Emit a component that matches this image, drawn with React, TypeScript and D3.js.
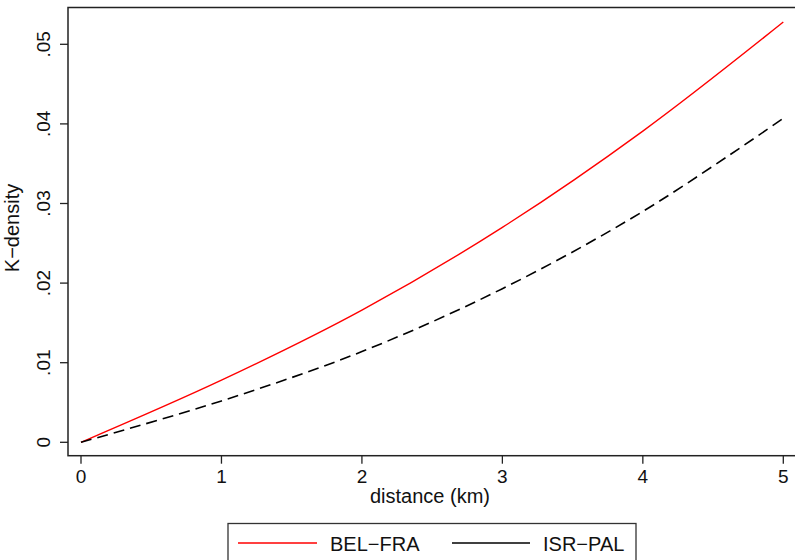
import React from 'react';
import * as d3 from 'd3';

// distance in km
const distances = [0, 1, 2, 3, 4, 5];
// K-density values
const belFra = [0, 0.0078, 0.0166, 0.027, 0.0391, 0.0528];
const isrPal = [0, 0.0052, 0.0114, 0.0193, 0.029, 0.0407];

const xTicks = [0, 1, 2, 3, 4, 5];
const yTicks = [0, 0.01, 0.02, 0.03, 0.04, 0.05];
const yTickLabels = ['0', '.01', '.02', '.03', '.04', '.05'];

const seriesNames = ['BEL\u2212FRA', 'ISR\u2212PAL'];

const FONT = '"Liberation Sans", Arial, Helvetica, sans-serif';

export default function App() {
  const width = 795;
  const height = 560;

  // plot region box
  const box = { left: 68, top: 7.5, right: 798, bottom: 455.7 };

  const x = d3.scaleLinear().domain([0, 5]).range([81, 783.3]);
  const y = d3.scaleLinear().domain([0, 0.05]).range([442.3, 44.3]);

  const line = d3
    .line<number>()
    .x((_, i) => x(distances[i]))
    .y((d) => y(d))
    .curve(d3.curveCatmullRom.alpha(0.5));

  return (
    <svg
      width={width}
      height={height}
      style={{ position: 'absolute', left: 0, top: 0, background: '#fff' }}
      fontFamily={FONT}
    >
      <rect x={0} y={0} width={width} height={height} fill="#fff" />

      {/* plot region outline */}
      <rect
        x={box.left}
        y={box.top}
        width={box.right - box.left}
        height={box.bottom - box.top}
        fill="none"
        stroke="#222"
        strokeWidth={1.5}
      />

      {/* y axis ticks */}
      {yTicks.map((t, i) => (
        <g key={'y' + i} transform={`translate(0, ${y(t)})`}>
          <line x1={box.left - 8} x2={box.left} stroke="#222" strokeWidth={1.3} />
          <text
            transform="translate(50, 0) rotate(-90)"
            textAnchor="middle"
            fontSize={19}
            fill="#111"
          >
            {yTickLabels[i]}
          </text>
        </g>
      ))}

      {/* x axis ticks */}
      {xTicks.map((t, i) => (
        <g key={'x' + i} transform={`translate(${x(t)}, 0)`}>
          <line y1={box.bottom} y2={box.bottom + 8} stroke="#222" strokeWidth={1.3} />
          <text y={483} textAnchor="middle" fontSize={19} fill="#111">
            {t}
          </text>
        </g>
      ))}

      {/* axis titles */}
      <text
        transform="translate(18.5, 228) rotate(-90)"
        textAnchor="middle"
        fontSize={20}
        fill="#111"
      >
        K{'\u2212'}density
      </text>
      <text x={430} y={503} textAnchor="middle" fontSize={20} fill="#111">
        distance (km)
      </text>

      {/* series */}
      <path d={line(belFra) || ''} fill="none" stroke="#ff0000" strokeWidth={1.4} />
      <path
        d={line(isrPal) || ''}
        fill="none"
        stroke="#000"
        strokeWidth={1.6}
        strokeDasharray="11,6"
      />

      {/* legend */}
      <rect x={228} y={523.5} width={408} height={45} fill="#fff" stroke="#333" strokeWidth={1.3} />
      <line x1={238} x2={317} y1={543} y2={543} stroke="#ff0000" strokeWidth={1.4} />
      <text x={330} y={550.5} fontSize={20} fill="#111">
        {seriesNames[0]}
      </text>
      <line x1={452} x2={530} y1={543} y2={543} stroke="#000" strokeWidth={1.4} />
      <text x={543} y={550.5} fontSize={20} fill="#111">
        {seriesNames[1]}
      </text>
    </svg>
  );
}
